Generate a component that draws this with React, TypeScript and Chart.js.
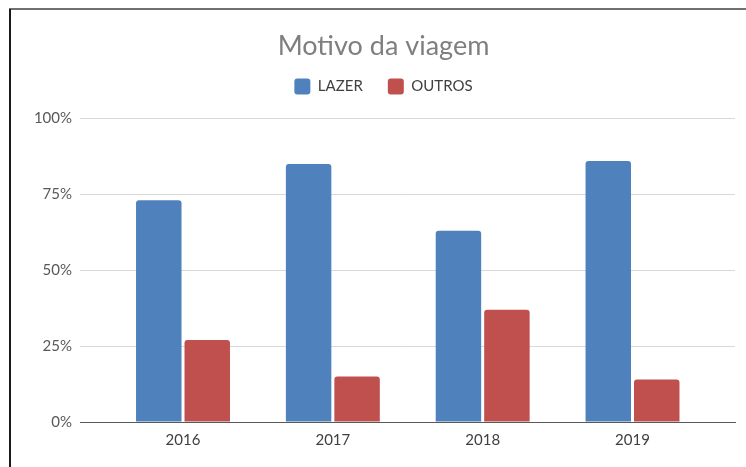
import React, { useEffect, useRef } from "react";
import { Chart, registerables } from "chart.js";

Chart.register(...registerables);

const years = ["2016", "2017", "2018", "2019"];
const lazer = [73, 85, 63, 86];
const outros = [27, 15, 37, 14];
const seriesNames = ["LAZER", "OUTROS"];
const yTickStep = 25;

export default function App() {
  const ref = useRef<HTMLCanvasElement | null>(null);

  useEffect(() => {
    if (!ref.current) return;
    const chart = new Chart(ref.current, {
      type: "bar",
      data: {
        datasets: [
          {
            label: seriesNames[0],
            data: lazer.map((v, i) => ({ x: i, y: v })),
            backgroundColor: "#4F81BD",
            borderRadius: { topLeft: 3, topRight: 3, bottomLeft: 0, bottomRight: 0 },
            borderSkipped: "bottom",
            categoryPercentage: 0.647,
            barPercentage: 0.938,
            yAxisID: "y",
            xAxisID: "x",
          },
          {
            label: seriesNames[1],
            data: outros.map((v, i) => ({ x: i, y: v })),
            backgroundColor: "#C0504D",
            borderRadius: { topLeft: 3, topRight: 3, bottomLeft: 0, bottomRight: 0 },
            borderSkipped: "bottom",
            categoryPercentage: 0.647,
            barPercentage: 0.938,
            yAxisID: "y",
            xAxisID: "x",
          },
        ],
      },
      options: {
        animation: false,
        responsive: false,
        maintainAspectRatio: false,
        layout: { padding: { left: 21, right: 0, top: 0, bottom: 0 } },
        plugins: {
          title: {
            display: true,
            text: "Motivo da viagem",
            color: "#7f7f7f",
            font: { family: "Lato", size: 27, weight: "normal" },
            padding: { top: 30, bottom: -9 },
          },
          legend: {
            display: true,
            labels: {
              color: "#404040",
              font: { family: "Lato", size: 15 },
              boxWidth: 16,
              boxHeight: 16,
              useBorderRadius: true,
              borderRadius: 3,
              padding: 25,
            },
          },
          tooltip: { enabled: false },
        },
        scales: {
          x: {
            type: "linear",
            position: "bottom",
            min: -0.6875,
            max: 3.684,
            offset: false,
            grid: { display: false, drawTicks: false },
            border: { display: true, color: "#595959", width: 1 },
            ticks: {
              stepSize: 1,
              includeBounds: false,
              autoSkip: false,
              padding: 9,
              color: "#404040",
              font: { family: "Lato", size: 15 },
              callback: (v: any) =>
                Number.isInteger(v) && years[v] !== undefined ? years[v] : "",
            },
            afterFit: (s: any) => {
              s.height = 45;
            },
          },
          xT: {
            type: "linear",
            position: "top",
            display: true,
            grid: { display: false, drawTicks: false },
            border: { display: false },
            ticks: { display: false },
            afterFit: (s: any) => {
              s.height = 14;
            },
          },
          y: {
            type: "linear",
            position: "left",
            min: 0,
            max: 100,
            grid: { color: "#d9d9d9", lineWidth: 1, drawTicks: false },
            border: { display: false },
            ticks: {
              stepSize: yTickStep,
              padding: 8,
              color: "#595959",
              font: { family: "Lato", size: 15 },
              callback: (v: any) => v + "%",
            },
            afterFit: (s: any) => {
              s.width = 59;
            },
          },
          yR: {
            type: "linear",
            position: "right",
            display: true,
            grid: { display: false, drawTicks: false },
            border: { display: false },
            ticks: { display: false },
            afterFit: (s: any) => {
              s.width = 11;
            },
          },
        },
      },
    });
    return () => chart.destroy();
  }, []);

  return (
    <div style={{ position: "fixed", left: 0, top: 0, width: 746, height: 467, background: "#fff" }}>
      <canvas ref={ref} width={746} height={467} style={{ position: "absolute", left: 0, top: 0, width: 746, height: 467 }} />
      <div style={{ position: "absolute", left: 9, top: 8, width: 737, height: 2, background: "#707070" }} />
      <div style={{ position: "absolute", left: 9, top: 9, width: 2, height: 458, background: "#1a1a1a" }} />
    </div>
  );
}
